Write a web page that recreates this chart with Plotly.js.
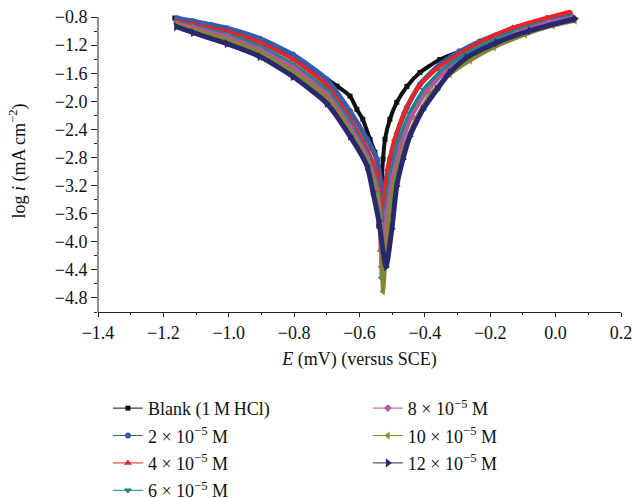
<!DOCTYPE html>
<html>
<head>
<meta charset="utf-8">
<script src="https://cdn.plot.ly/plotly-3.0.1.min.js"></script>
<style>html,body{margin:0;padding:0;background:#fff;}#chart{width:633px;height:498px;}</style>
</head>
<body>
<div id="chart"></div>
<script>
// Series names
const seriesNames = [
  "Blank (1\u2009M\u2009HCl)",
  "2 \u00d7 10<sup>\u22125</sup> M",
  "4 \u00d7 10<sup>\u22125</sup> M",
  "6 \u00d7 10<sup>\u22125</sup> M",
  "8 \u00d7 10<sup>\u22125</sup> M",
  "10 \u00d7 10<sup>\u22125</sup> M",
  "12 \u00d7 10<sup>\u22125</sup> M"
];

// E (V vs SCE) and log i values
const E_blank = [-1.165,-1.058,-0.957,-0.853,-0.752,-0.669,-0.629,-0.608,-0.590,-0.568,-0.553,-0.541,-0.538,-0.541,-0.532,-0.528,-0.522,-0.507,-0.486,-0.455,-0.415,-0.354,-0.293];
const L_blank = [-0.814,-0.909,-1.075,-1.264,-1.523,-1.784,-1.926,-2.115,-2.256,-2.540,-2.724,-2.965,-3.250,-3.775,-3.107,-2.823,-2.540,-2.256,-2.015,-1.788,-1.590,-1.405,-1.288];

const E_2 = [-1.158,-1.109,-1.006,-0.905,-0.804,-0.700,-0.629,-0.577,-0.547,-0.535,-0.528,-0.525,-0.522,-0.507,-0.486,-0.455,-0.415,-0.354,-0.293,-0.232,-0.131,-0.027,0.043];
const L_2 = [-0.817,-0.860,-0.959,-1.108,-1.335,-1.689,-2.143,-2.540,-2.823,-3.178,-3.603,-3.880,-3.250,-2.823,-2.470,-2.087,-1.760,-1.476,-1.292,-1.150,-0.966,-0.831,-0.753];

const E_4 = [-1.158,-1.109,-1.006,-0.905,-0.804,-0.700,-0.629,-0.577,-0.547,-0.538,-0.535,-0.525,-0.513,-0.492,-0.461,-0.421,-0.366,-0.302,-0.232,-0.131,-0.027,0.043];
const L_4 = [-0.867,-0.909,-1.008,-1.164,-1.405,-1.774,-2.256,-2.682,-3.036,-3.390,-4.114,-3.390,-2.966,-2.540,-2.143,-1.803,-1.547,-1.349,-1.164,-0.952,-0.810,-0.725];

const E_6 = [-1.158,-1.109,-1.006,-0.905,-0.804,-0.700,-0.629,-0.577,-0.547,-0.535,-0.532,-0.519,-0.504,-0.480,-0.446,-0.403,-0.348,-0.287,-0.217,-0.125,-0.024,0.046];
const L_6 = [-0.881,-0.938,-1.051,-1.221,-1.476,-1.845,-2.313,-2.753,-3.178,-3.603,-4.524,-3.530,-3.036,-2.583,-2.171,-1.831,-1.561,-1.363,-1.193,-1.008,-0.867,-0.796];

const E_8 = [-1.158,-1.109,-1.006,-0.905,-0.804,-0.700,-0.629,-0.577,-0.547,-0.535,-0.532,-0.516,-0.498,-0.473,-0.440,-0.394,-0.339,-0.278,-0.207,-0.116,-0.021,0.049];
const L_8 = [-0.895,-0.952,-1.079,-1.264,-1.519,-1.902,-2.370,-2.795,-3.249,-3.745,-4.355,-3.600,-3.079,-2.625,-2.214,-1.859,-1.590,-1.391,-1.221,-1.023,-0.881,-0.810];

const E_10 = [-1.158,-1.109,-1.006,-0.905,-0.804,-0.700,-0.629,-0.577,-0.547,-0.535,-0.528,-0.513,-0.492,-0.464,-0.428,-0.382,-0.324,-0.262,-0.189,-0.094,-0.009,0.059];
const L_10 = [-0.909,-0.980,-1.122,-1.306,-1.576,-1.959,-2.426,-2.852,-3.320,-3.816,-4.709,-3.745,-3.135,-2.668,-2.256,-1.888,-1.618,-1.420,-1.235,-1.051,-0.923,-0.852];

const E_12 = [-1.161,-1.109,-1.006,-0.905,-0.804,-0.700,-0.629,-0.577,-0.559,-0.541,-0.519,-0.501,-0.486,-0.467,-0.446,-0.406,-0.363,-0.324,-0.272,-0.180,-0.079,0.059];
const L_12 = [-0.938,-1.023,-1.179,-1.363,-1.647,-2.030,-2.497,-2.922,-3.291,-3.703,-4.355,-3.816,-3.206,-2.823,-2.498,-2.115,-1.831,-1.590,-1.377,-1.164,-0.994,-0.824];

// Axis ticks
const xTicks = [-1.4,-1.2,-1.0,-0.8,-0.6,-0.4,-0.2,0.0,0.2];
const yTicks = [-0.8,-1.2,-1.6,-2.0,-2.4,-2.8,-3.2,-3.6,-4.0,-4.4,-4.8];

const Es = [E_blank,E_2,E_4,E_6,E_8,E_10,E_12];
const Ls = [L_blank,L_2,L_4,L_6,L_8,L_10,L_12];
const colors = ["#111111","#3a5ba8","#ec2227","#17878a","#b9549f","#868632","#28286e"];
const symbols = ["square","circle","triangle-up","triangle-down","diamond","triangle-left","triangle-right"];
const msizes = [5,6,7,7,6,7,8];
const bandW = [4,5,4,4,4,4,5];

const traces = [];
for (let k = 0; k < Es.length; k++) {
  const lg = k < 4 ? "legend" : "legend2";
  traces.push({
    x: Es[k], y: Ls[k], mode: "lines", showlegend: false, hoverinfo: "skip",
    legend: lg, legendgroup: "g" + k,
    line: {color: colors[k], width: bandW[k], shape: "spline", smoothing: 0.6}
  });
  traces.push({
    x: Es[k], y: Ls[k], name: seriesNames[k], mode: "lines+markers",
    legend: lg, legendgroup: "g" + k,
    line: {color: colors[k], width: 1, shape: "spline", smoothing: 0.6},
    marker: {color: colors[k], symbol: symbols[k], size: msizes[k]}
  });
}

const fontFam = "Liberation Serif, Times New Roman, serif";
const legendBase = {
  font: {family: fontFam, size: 18, color: "#111"},
  bgcolor: "rgba(0,0,0,0)", yanchor: "top", xanchor: "left",
  traceorder: "grouped", tracegroupgap: 1, itemwidth: 30
};

const layout = {
  width: 633, height: 498,
  margin: {l: 98, r: 12, t: 10, b: 186, autoexpand: false},
  paper_bgcolor: "#fff", plot_bgcolor: "#fff",
  font: {family: fontFam, color: "#111"},
  xaxis: {
    range: [-1.4, 0.2], tickvals: xTicks, tickformat: ".1f", automargin: false,
    ticks: "outside", ticklen: 4, tickcolor: "#222",
    minor: {dtick: 0.1, tick0: -1.4, ticks: "outside", ticklen: 2, tickcolor: "#222"},
    showline: true, linecolor: "#222", linewidth: 1, mirror: false,
    showgrid: false, zeroline: false,
    tickfont: {family: fontFam, size: 18, color: "#111"},
    title: {text: "<i>E</i> (mV) (versus SCE)", font: {family: fontFam, size: 18, color: "#111"}, standoff: 10}
  },
  yaxis: {
    range: [-5.0, -0.7], tickvals: yTicks, tickformat: ".1f", automargin: false,
    ticks: "outside", ticklen: 6, tickcolor: "#222",
    minor: {dtick: 0.2, tick0: -0.8, ticks: "outside", ticklen: 3, tickcolor: "#222"},
    showline: false, showgrid: false, zeroline: false,
    tickfont: {family: fontFam, size: 18, color: "#111"},
    title: {text: "log <i>i</i> (mA\u2009cm<sup>\u22122</sup>)", font: {family: fontFam, size: 18, color: "#111"}, standoff: 24}
  },
  shapes: [{
    type: "line", xref: "paper", yref: "y", x0: 0, x1: 0, y0: -5.0, y1: -0.8,
    line: {color: "#222", width: 1}, layer: "above"
  }],
  legend: Object.assign({}, legendBase, {x: 0.019, y: -0.258}),
  legend2: Object.assign({}, legendBase, {x: 0.516, y: -0.258}),
  showlegend: true
};

Plotly.newPlot("chart", traces, layout, {displayModeBar: false, staticPlot: true});
</script>
</body>
</html>
